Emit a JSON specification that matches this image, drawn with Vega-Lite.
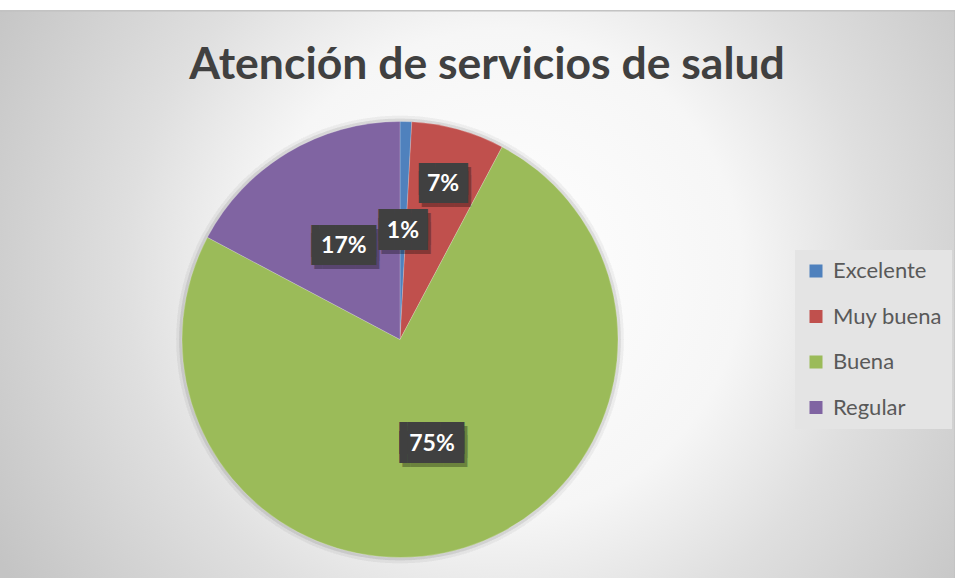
{
  "$schema": "https://vega.github.io/schema/vega-lite/v6.json",
  "width": 1110,
  "height": 657,
  "autosize": "none",
  "padding": {"left": -155, "top": 11, "right": 0, "bottom": -90},
  "background": "#ffffff",
  "config": {"view": {"stroke": null}},
  "title": {
    "text": "Atención de servicios de salud",
    "font": "Lato",
    "fontSize": 44.5,
    "fontWeight": "bold",
    "color": "#404040",
    "anchor": "middle",
    "frame": "group",
    "orient": "top",
    "offset": 0,
    "baseline": "alphabetic",
    "dx": 87,
    "dy": 113
  },
  "data": {
    "values": [
      {"categoria": "Excelente", "valor": 0.0086, "orden": 1},
      {"categoria": "Muy buena", "valor": 0.069, "orden": 2},
      {"categoria": "Buena", "valor": 0.75, "orden": 3},
      {"categoria": "Regular", "valor": 0.1724, "orden": 4}
    ]
  },
  "layer": [
    {
      "mark": {
        "type": "rect",
        "stroke": "#bfbfbf",
        "strokeWidth": 1,
        "fill": {
          "gradient": "radial",
          "x1": 0.59, "y1": 0.44, "r1": 0,
          "x2": 0.59, "y2": 0.44, "r2": 0.52,
          "stops": [
            {"offset": 0, "color": "#ffffff"},
            {"offset": 0.42, "color": "#f6f6f6"},
            {"offset": 0.65, "color": "#dfdfdf"},
            {"offset": 1, "color": "#c4c4c4"}
          ]
        }
      },
      "encoding": {}
    },
    {
      "mark": {"type": "arc", "radius": 224, "fill": "#000000", "opacity": 0.012},
      "encoding": {}
    },
    {
      "mark": {"type": "arc", "radius": 221, "fill": "#000000", "opacity": 0.02},
      "encoding": {}
    },
    {
      "mark": {"type": "arc", "radius": 218, "stroke": "#ffffff", "strokeWidth": 0.6, "strokeOpacity": 0.35},
      "encoding": {
        "theta": {"field": "valor", "type": "quantitative", "stack": true},
        "order": {"field": "orden", "type": "quantitative"},
        "color": {
          "field": "categoria",
          "type": "nominal",
          "sort": ["Excelente", "Muy buena", "Buena", "Regular"],
          "scale": {
            "domain": ["Excelente", "Muy buena", "Buena", "Regular"],
            "range": ["#4f81bd", "#c0504d", "#9bbb59", "#8064a2"]
          },
          "legend": {
            "title": null,
            "orient": "none",
            "legendX": 950,
            "legendY": 239,
            "padding": 10,
            "fillColor": "#e4e4e4",
            "symbolType": "square",
            "symbolSize": 169,
            "symbolStrokeWidth": 0,
            "labelFont": "Lato",
            "labelFontSize": 22,
            "labelColor": "#595959",
            "labelOffset": 6,
            "rowPadding": 23.5
          }
        }
      }
    },
    {
      "mark": {
        "type": "text",
        "font": "DejaVu Sans Mono",
        "fontSize": 27,
        "lineHeight": 8.6,
        "align": "center",
        "baseline": "middle",
        "fill": "#000000",
        "opacity": 0.3,
        "dx": 3,
        "dy": -0.5,
        "radius": {"expr": "datum.categoria === 'Muy buena' ? 161 : 109"}
      },
      "encoding": {
        "theta": {"field": "valor", "type": "quantitative", "stack": true},
        "order": {"field": "orden", "type": "quantitative"},
        "text": {"condition": {"test": "datum.valor >= 0.1", "value": ["▐███▌", "▐███▌"]}, "value": ["███", "███"]}
      }
    },
    {
      "mark": {
        "type": "text",
        "font": "DejaVu Sans Mono",
        "fontSize": 27,
        "lineHeight": 8.6,
        "align": "center",
        "baseline": "middle",
        "fill": "#404040",
        "dy": -4.5,
        "radius": {"expr": "datum.categoria === 'Muy buena' ? 161 : 109"}
      },
      "encoding": {
        "theta": {"field": "valor", "type": "quantitative", "stack": true},
        "order": {"field": "orden", "type": "quantitative"},
        "text": {"condition": {"test": "datum.valor >= 0.1", "value": ["▐███▌", "▐███▌"]}, "value": ["███", "███"]}
      }
    },
    {
      "mark": {
        "type": "text",
        "font": "Lato",
        "fontSize": 23,
        "fontWeight": "bold",
        "align": "center",
        "baseline": "middle",
        "fill": "#ffffff",
        "radius": {"expr": "datum.categoria === 'Muy buena' ? 161 : 109"}
      },
      "encoding": {
        "theta": {"field": "valor", "type": "quantitative", "stack": true},
        "order": {"field": "orden", "type": "quantitative"},
        "text": {"field": "valor", "type": "quantitative", "format": ".0%"}
      }
    }
  ]
}
